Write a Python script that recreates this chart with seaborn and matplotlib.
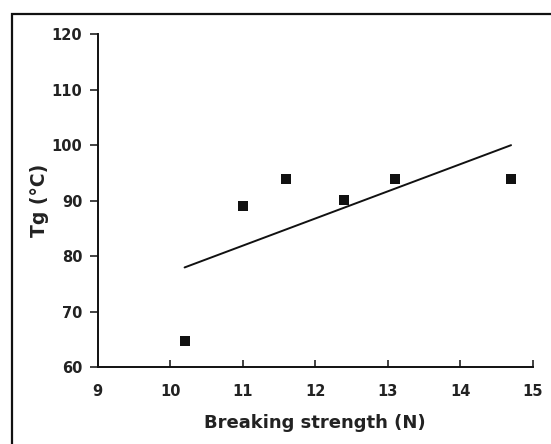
import matplotlib
matplotlib.use("Agg")
import matplotlib.pyplot as plt
import seaborn as sns
import pandas as pd
from matplotlib.patches import Rectangle

# Data
breaking_strength = [10.2, 11.0, 11.6, 12.4, 13.1, 14.7]
tg_values = [64.7, 89.0, 94.0, 90.2, 94.0, 94.0]
fit_x = [10.2, 14.7]
fit_y = [78.0, 100.0]
x_ticks = [9, 10, 11, 12, 13, 14, 15]
y_ticks = [60, 70, 80, 90, 100, 110, 120]

sns.set_theme(style="white")
plt.rcParams['font.family'] = ['DejaVu Sans']

fig = plt.figure(figsize=(5.51, 4.44), dpi=100)
ax = fig.add_axes([0.177, 0.1723, 0.967 - 0.177, 0.9234 - 0.1723])

pts = pd.DataFrame({"x": breaking_strength, "y": tg_values})
fit = pd.DataFrame({"x": fit_x, "y": fit_y})

sns.lineplot(data=fit, x="x", y="y", ax=ax, color="#111111", linewidth=1.4)
sns.scatterplot(data=pts, x="x", y="y", ax=ax, marker="s", s=55,
                color="#111111", edgecolor="#111111", linewidth=0)

ax.set_xlim(9, 15)
ax.set_ylim(60, 120)
ax.set_xticks(x_ticks)
ax.set_yticks(y_ticks)
ax.set_xticklabels([str(t) for t in x_ticks], fontweight="bold")
ax.set_yticklabels([str(t) for t in y_ticks], fontweight="bold")

for s in ["top", "right"]:
    ax.spines[s].set_visible(False)
for s in ["left", "bottom"]:
    ax.spines[s].set_color("#111111")
    ax.spines[s].set_linewidth(1.4)

ax.tick_params(axis="y", direction="out", length=6, width=1.2, pad=5,
               labelsize=10.5, colors="#222222", left=True)
ax.tick_params(axis="x", direction="in", length=5, width=1.2, pad=12,
               labelsize=10.5, colors="#222222", bottom=True)

ax.set_xlabel("Breaking strength (N)", fontsize=13, fontweight="bold",
              color="#222222", labelpad=11)
ax.set_ylabel("Tg (°C)", fontsize=13.5, fontweight="bold",
              color="#222222", labelpad=2)

# Outer frame, clipped by the image edges on the right and bottom
fig.patches.append(Rectangle((12 / 551, -0.2), 1.2, 1.2 - 14.5 / 444,
                             transform=fig.transFigure, fill=False,
                             edgecolor="#111111", linewidth=1.6))

fig.savefig("out.png", dpi=100)
